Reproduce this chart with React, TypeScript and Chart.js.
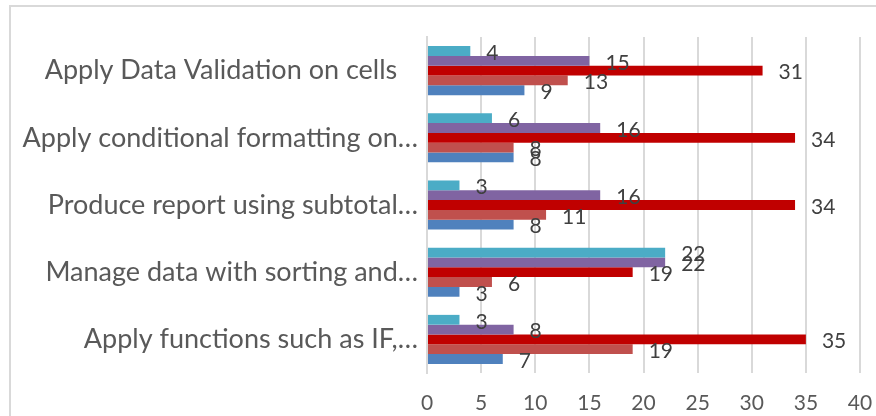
import React, { useEffect, useRef } from "react";
import { Chart, registerables } from "chart.js";

Chart.register(...registerables);

// Skill categories, listed top to bottom
const categories = [
  "Apply Data Validation on cells   ",
  "Apply conditional formatting on…",
  "Produce report using subtotal…",
  "Manage data with sorting and…",
  "Apply functions such as IF,…",
];

// Series, drawn top to bottom within each category group
const tealValues = [4, 6, 3, 22, 3];
const purpleValues = [15, 16, 16, 22, 8];
const darkRedValues = [31, 34, 34, 19, 35];
const redValues = [13, 8, 11, 6, 19];
const blueValues = [9, 8, 8, 3, 7];

const xTickValues = [0, 5, 10, 15, 20, 25, 30, 35, 40];

const FONT = "Lato, 'Open Sans', sans-serif";

// Writes each bar's value just past its end
const valueLabels = {
  id: "valueLabels",
  afterDatasetsDraw(chart: any) {
    const ctx = chart.ctx;
    ctx.save();
    ctx.font = `21px ${FONT}`;
    ctx.fillStyle = "#404040";
    ctx.textAlign = "left";
    ctx.textBaseline = "middle";
    chart.data.datasets.forEach((ds: any, i: number) => {
      const meta = chart.getDatasetMeta(i);
      meta.data.forEach((bar: any, j: number) => {
        const { x, y } = bar.getProps(["x", "y"], true);
        ctx.fillText(String(ds.data[j]), x + 16, y + 2);
      });
    });
    ctx.restore();
  },
};

export default function App() {
  const canvasRef = useRef<HTMLCanvasElement | null>(null);

  useEffect(() => {
    const canvas = canvasRef.current;
    if (!canvas) return;
    const chart = new Chart(canvas, {
      type: "bar",
      data: {
        labels: categories,
        datasets: [
          { label: "Teal", data: tealValues, backgroundColor: "#4BACC6" },
          { label: "Purple", data: purpleValues, backgroundColor: "#8064A2" },
          { label: "Dark red", data: darkRedValues, backgroundColor: "#C00000" },
          { label: "Red", data: redValues, backgroundColor: "#C0504D" },
          { label: "Blue", data: blueValues, backgroundColor: "#4F81BD" },
        ],
      },
      options: {
        indexAxis: "y",
        responsive: false,
        animation: false,
        datasets: {
          bar: { categoryPercentage: 0.73, barPercentage: 1, borderWidth: 0 },
        },
        layout: { padding: { top: 37, right: 16, left: 0, bottom: 0 } },
        plugins: {
          legend: { display: false },
          tooltip: { enabled: false },
        },
        scales: {
          x: {
            min: 0,
            max: 40,
            afterBuildTicks: (scale: any) => {
              scale.ticks = xTickValues.map((v) => ({ value: v }));
            },
            afterFit: (scale: any) => {
              scale.height = 43;
              scale.paddingLeft = 0;
              scale.paddingRight = 0;
            },
            grid: { color: "#D9D9D9", lineWidth: 2, drawTicks: false },
            border: { display: false },
            ticks: {
              color: "#595959",
              padding: 18,
              font: { family: FONT, size: 21 },
            },
          },
          y: {
            afterFit: (scale: any) => {
              scale.width = 427;
            },
            grid: { display: false, drawTicks: false },
            border: { display: true, color: "#D9D9D9", width: 2 },
            ticks: {
              color: "#595959",
              padding: 9,
              font: { family: FONT, size: 27 },
            },
          },
        },
      },
      plugins: [valueLabels],
    });
    return () => chart.destroy();
  }, []);

  return (
    <div
      style={{
        position: "fixed",
        left: 0,
        top: 0,
        width: 876,
        height: 416,
        overflow: "hidden",
        background: "#ffffff",
      }}
    >
      <div
        style={{
          position: "absolute",
          left: 9,
          top: 5,
          width: 900,
          height: 450,
          borderTop: "2px solid #D9D9D9",
          borderLeft: "2px solid #D9D9D9",
        }}
      />
      <canvas
        ref={canvasRef}
        width={876}
        height={416}
        style={{ position: "absolute", left: 0, top: 0 }}
      />
    </div>
  );
}
